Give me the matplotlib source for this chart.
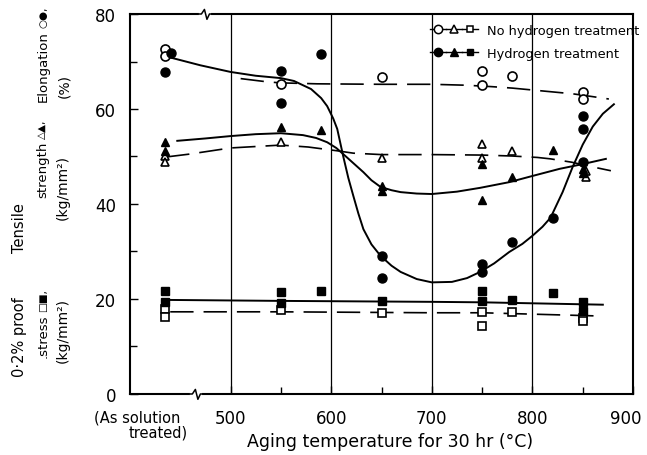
import numpy as np
import matplotlib.pyplot as plt
import matplotlib.transforms as mtransforms
from matplotlib.lines import Line2D
from matplotlib.legend_handler import HandlerTuple

plt.rcParams['font.family'] = ['DejaVu Sans']

# measured points (aging temperature, value); 435 = "as solution treated"
no_h_elong_t = [435, 435, 550, 650, 750, 750, 780, 850, 850]
no_h_elong_v = [72.6, 71.2, 65.3, 66.8, 68.0, 65.0, 67.0, 63.6, 62.2]
h_elong_t = [441, 435, 550, 550, 590, 650, 650, 750, 750, 780, 820, 850, 850, 850]
h_elong_v = [71.8, 67.8, 68.0, 61.2, 71.6, 29.1, 24.4, 27.4, 25.7, 32.0, 37.1, 58.5, 55.8, 48.8]

no_h_ts_t = [435, 435, 550, 650, 750, 750, 780, 853, 853]
no_h_ts_v = [50.1, 48.9, 53.0, 49.7, 52.6, 49.6, 51.2, 46.9, 45.7]
h_ts_t = [435, 435, 550, 590, 650, 650, 750, 750, 780, 820, 850, 850]
h_ts_v = [53.0, 51.1, 56.2, 55.6, 43.8, 42.8, 48.4, 40.8, 45.7, 51.4, 47.4, 46.6]

no_h_ps_t = [435, 435, 550, 650, 750, 750, 780, 850, 850]
no_h_ps_v = [17.8, 16.3, 17.6, 17.0, 17.2, 14.3, 17.3, 16.1, 15.3]
h_ps_t = [435, 435, 550, 550, 590, 650, 750, 750, 780, 820, 850, 850]
h_ps_v = [21.7, 19.4, 21.5, 19.2, 21.7, 19.6, 21.7, 19.6, 19.8, 21.3, 19.4, 17.5]

# hand drawn trend curves
h_elong_curve_t = [439, 470, 500, 525, 550, 563, 580, 590, 596, 602, 606, 612, 617, 622, 627,
                   632, 640, 649, 660, 669, 685, 700, 720, 735, 748, 762, 777, 790, 800, 810,
                   818, 830, 840, 850, 860, 870, 881]
h_elong_curve_v = [70.9, 69.2, 67.8, 67.0, 66.5, 65.9, 64.2, 62.3, 60.6, 58.0, 55.8, 50.0, 45.5,
                   41.7, 38.0, 34.7, 31.5, 29.1, 27.0, 25.7, 24.2, 23.5, 23.6, 24.4, 25.7, 27.5,
                   29.9, 31.6, 33.3, 35.2, 37.1, 42.5, 47.8, 52.5, 56.3, 59.0, 61.0]
no_h_elong_curve_t = [510, 537, 550, 586, 650, 700, 735, 760, 780, 800, 820, 840, 860, 876]
no_h_elong_curve_v = [66.4, 65.7, 65.5, 65.3, 65.2, 65.2, 65.0, 64.7, 64.4, 64.0,
                      63.6, 63.2, 62.6, 62.1]

h_ts_curve_t = [447, 475, 500, 525, 550, 572, 585, 596, 605, 612, 622, 632, 640, 649, 660, 669,
                685, 700, 725, 748, 777, 800, 827, 850, 873]
h_ts_curve_v = [53.3, 53.8, 54.3, 54.7, 54.9, 54.5, 53.9, 53.0, 51.8, 50.5, 48.6, 46.7, 45.0,
                43.6, 42.9, 42.5, 42.2, 42.1, 42.6, 43.4, 44.6, 45.9, 47.4, 48.4, 49.5]
no_h_ts_curve_t = [436, 459, 500, 550, 577, 606, 622, 650, 700, 750, 780, 805, 818, 839, 860, 878]
no_h_ts_curve_v = [49.9, 50.5, 51.8, 52.4, 52.0, 51.2, 50.7, 50.4, 50.4, 50.3, 50.1, 49.8, 49.5,
                   48.8, 47.8, 47.0]

h_ps_curve_t = [440, 550, 700, 750, 870]
h_ps_curve_v = [19.8, 19.6, 19.4, 19.3, 18.8]
no_h_ps_curve_t = [440, 550, 700, 750, 870]
no_h_ps_curve_v = [17.3, 17.3, 17.1, 17.1, 16.4]

grid_temps = [500, 600, 700, 800]
x_ticks = [500, 600, 700, 800, 900]
y_ticks = [0, 20, 40, 60, 80]

fig = plt.figure(figsize=(6.47, 4.56), dpi=100)
ax = fig.add_axes([0.2009, 0.1338, 0.7775, 0.8333])
ax.set_xlim(400, 900)
ax.set_ylim(0, 80)

for t in grid_temps:
    ax.axvline(t, color='k', lw=0.9, zorder=1)

dash = (14, 6)
ax.plot(h_elong_curve_t, h_elong_curve_v, color='k', lw=1.4, zorder=2)
ax.plot(no_h_elong_curve_t, no_h_elong_curve_v, color='k', lw=1.2, dashes=dash, zorder=2)
ax.plot(h_ts_curve_t, h_ts_curve_v, color='k', lw=1.4, zorder=2)
ax.plot(no_h_ts_curve_t, no_h_ts_curve_v, color='k', lw=1.2, dashes=dash, zorder=2)
ax.plot(h_ps_curve_t, h_ps_curve_v, color='k', lw=1.4, zorder=2)
ax.plot(no_h_ps_curve_t, no_h_ps_curve_v, color='k', lw=1.2, dashes=dash, zorder=2)

open_kw = dict(linestyle='none', mfc='white', mec='k', mew=1.2, zorder=3)
fill_kw = dict(linestyle='none', mfc='k', mec='k', zorder=3)
ax.plot(no_h_elong_t, no_h_elong_v, marker='o', ms=6.5, **open_kw)
ax.plot(h_elong_t, h_elong_v, marker='o', ms=6.5, **fill_kw)
ax.plot(no_h_ts_t, no_h_ts_v, marker='^', ms=6, **open_kw)
ax.plot(h_ts_t, h_ts_v, marker='^', ms=6, **fill_kw)
ax.plot(no_h_ps_t, no_h_ps_v, marker='s', ms=5.5, **open_kw)
ax.plot(h_ps_t, h_ps_v, marker='s', ms=5.5, **fill_kw)

# axes styling
for s in ax.spines.values():
    s.set_linewidth(1.5)
ax.set_xticks(x_ticks)
ax.set_xticks([550, 650, 750, 850], minor=True)
ax.set_yticks(y_ticks)
ax.set_yticks([10, 30, 50, 70], minor=True)
ax.tick_params(which='both', direction='in', labelsize=12, width=1)
ax.tick_params(which='major', length=6)
ax.tick_params(which='minor', length=5)
ax.tick_params(axis='y', pad=10)
ax.tick_params(axis='x', pad=11)
# last x label sits a little inside the figure edge
last = ax.get_xticklabels()[-1]
last.set_transform(last.get_transform() + mtransforms.ScaledTranslation(-7 / 100, 0, fig.dpi_scale_trans))

# axis break marks
xt = ax.get_xaxis_transform()
for tb, yb in [(466, 0.0), (475, 1.0)]:
    ax.plot([tb - 4, tb + 4], [yb, yb], color='white', lw=3, transform=xt, clip_on=False, zorder=5)
    ax.plot([tb - 6, tb - 4, tb - 1, tb + 1.5, tb + 4, tb + 6],
            [yb, yb, yb + 0.012, yb - 0.014, yb, yb],
            color='k', lw=1.1, transform=xt, clip_on=False, zorder=6)

ax.text(450, -0.042, '(As solution', transform=xt, ha='right', va='top', fontsize=10.5)
ax.text(457, -0.080, 'treated)', transform=xt, ha='right', va='top', fontsize=10.5)

ax.set_xlabel('Aging temperature for 30 hr (°C)', fontsize=12.5)
ax.xaxis.set_label_coords(0.517, -0.100)
ax.xaxis.label.set_va('top')

# y labels (three stacked groups)
def ylab(x, y, s, size=10):
    return fig.text(x / 647, 1 - y / 456, s, rotation=90, ha='center', va='center', fontsize=size)

def ylab_sym(x, y_bottom, word, syms, size=9.5):
    w = fig.text(x / 647, 1 - y_bottom / 456, word, rotation=90, ha='center', va='bottom',
                 fontsize=size)
    ax.annotate(syms, xy=(0.5, 1.0), xycoords=w, xytext=(0, 2), textcoords='offset points',
                rotation=90, ha='center', va='bottom', fontsize=7.5, annotation_clip=False)

ylab_sym(43, 102, 'Elongation', '○●,')
ylab(64, 86, '(%)')
ylab(20, 228, 'Tensile', 10.5)
ylab_sym(43, 198, 'strength', '△▲,')
ylab(63, 188, '(kg/mm²)')
ylab(20, 337, '0·2% proof', 10.5)
ylab_sym(43, 358, '.stress', '□■,')
ylab(63, 331, '(kg/mm²)')

# legend
h_open = tuple(Line2D([], [], color='k', lw=1, marker=m, ms=ms, mfc='white', mec='k', mew=1.1)
               for m, ms in [('o', 6), ('^', 5.5), ('s', 5)])
h_fill = tuple(Line2D([], [], color='k', lw=1, marker=m, ms=ms, mfc='k', mec='k')
               for m, ms in [('o', 6), ('^', 5.5), ('s', 5)])
leg = ax.legend([h_open, h_fill], ['No hydrogen treatment', 'Hydrogen treatment'],
                handler_map={tuple: HandlerTuple(ndivide=None, pad=0.0)},
                loc='upper left', bbox_to_anchor=(0.597, 0.974), frameon=False,
                fontsize=9.3, handlelength=3.7, handletextpad=0.7, labelspacing=0.75,
                borderaxespad=0, borderpad=0)
leg.set_zorder(7)

fig.savefig('out.png', dpi=100)
